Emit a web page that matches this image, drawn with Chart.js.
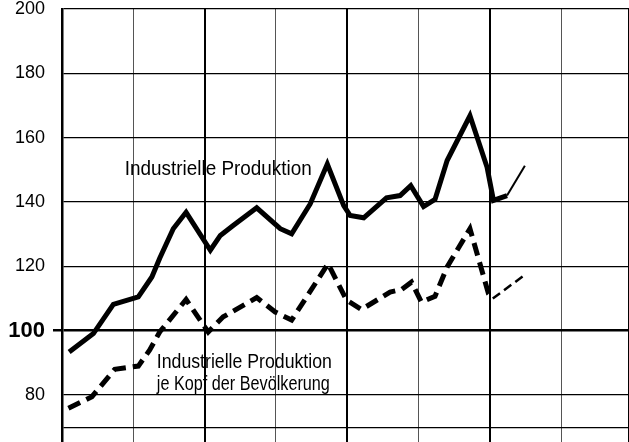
<!DOCTYPE html>
<html>
<head>
<meta charset="utf-8">
<script src="https://cdn.jsdelivr.net/npm/chart.js@4/dist/chart.umd.min.js"></script>
<style>
  html, body { margin: 0; padding: 0; background: #fff; }
  #c { display: block; }
</style>
</head>
<body>
<canvas id="c" width="629" height="442"></canvas>
<script>
// Time axis in years from the left edge of the grid (one grid column = one year)
const prodX = [0.10, 0.44, 0.72, 1.07, 1.26, 1.37, 1.56, 1.74, 2.08, 2.22, 2.40, 2.73, 3.06, 3.22, 3.48, 3.72, 3.95, 4.04, 4.23, 4.55, 4.74, 4.89, 5.07, 5.23, 5.40, 5.72, 5.96, 6.05, 6.24];
const prodY = [93.4, 99.1, 108.2, 110.5, 116.7, 122.5, 131.7, 136.8, 125.0, 129.6, 132.7, 138.2, 131.7, 130.1, 139.4, 151.8, 138.9, 135.8, 135.1, 141.3, 142.0, 145.1, 138.6, 140.8, 152.9, 166.8, 150.8, 140.5, 142.0];
const prodExtX = [6.24, 6.49];
const prodExtY = [142.0, 151.3];

const capX = [0.09, 0.42, 0.74, 1.07, 1.23, 1.37, 1.74, 2.05, 2.26, 2.73, 2.99, 3.22, 3.73, 3.99, 4.20, 4.60, 4.76, 4.90, 5.04, 5.23, 5.40, 5.72, 5.98, 6.04];
const capY = [75.9, 79.5, 88.0, 89.0, 94.0, 99.6, 109.7, 99.6, 104.3, 110.3, 105.8, 103.3, 120.8, 109.5, 106.6, 112.0, 112.8, 115.1, 108.9, 110.7, 119.8, 131.7, 111.5, 110.0];
const capExtX = [6.04, 6.48];
const capExtY = [110.0, 117.2];

const yTickValues = [70, 80, 100, 120, 140, 160, 180, 200];
const labelProd = "Industrielle Produktion";
const labelCap1 = "Industrielle Produktion";
const labelCap2 = "je Kopf der Bevölkerung";

function pts(xs, ys) { return xs.map((x, i) => ({ x: x, y: ys[i] })); }

const annotPlugin = {
  id: 'annot',
  afterDatasetsDraw(chart, args, opts) {
    const ctx = chart.ctx;
    const xs = chart.scales.x, ys = chart.scales.y;
    ctx.save();
    ctx.fillStyle = '#000';
    ctx.textBaseline = 'middle';
    ctx.textAlign = 'left';
    ctx.font = opts.font;
    opts.items.forEach(it => {
      const px = xs.getPixelForValue(it.x);
      const py = ys.getPixelForValue(it.y);
      const w = ctx.measureText(it.text).width;
      const sx = it.width / w;
      ctx.save();
      ctx.translate(px, py);
      ctx.scale(sx, 1);
      ctx.fillText(it.text, 0, 0);
      ctx.restore();
    });
    ctx.restore();
  }
};

new Chart(document.getElementById('c'), {
  type: 'line',
  data: {
    datasets: [
      { data: pts(prodX, prodY), borderColor: '#000', borderWidth: 5, pointRadius: 0, tension: 0, borderJoinStyle: 'miter', borderCapStyle: 'butt' },
      { data: pts(prodExtX, prodExtY), borderColor: '#000', borderWidth: 2, pointRadius: 0, tension: 0 },
      { data: pts(capX, capY), borderColor: '#000', borderWidth: 5, borderDash: [13, 7], pointRadius: 0, tension: 0, borderJoinStyle: 'miter', borderCapStyle: 'butt' },
      { data: pts(capExtX, capExtY), borderColor: '#000', borderWidth: 2.5, borderDash: [9, 5], pointRadius: 0, tension: 0 }
    ]
  },
  options: {
    responsive: false,
    animation: false,
    devicePixelRatio: 1,
    layout: { padding: { top: 9, right: 0, bottom: 0, left: 0 } },
    plugins: {
      legend: { display: false },
      tooltip: { enabled: false },
      title: { display: false },
      annot: {
        font: '20px "Liberation Sans", Arial, sans-serif',
        items: [
          { text: labelProd, x: 0.88, y: 150.1, width: 187 },
          { text: labelCap1, x: 1.33, y: 90.2, width: 175 },
          { text: labelCap2, x: 1.33, y: 83.4, width: 173 }
        ]
      }
    },
    scales: {
      x: {
        type: 'linear',
        min: 0,
        max: 7.95,
        ticks: { display: false, stepSize: 1 },
        border: { display: false },
        grid: {
          drawTicks: false,
          color: ctx => (ctx.tick && Math.round(ctx.tick.value) % 2 === 0) ? '#000' : '#555',
          lineWidth: ctx => (ctx.tick && Math.round(ctx.tick.value) % 2 === 0) ? 2 : 1
        },
        afterFit: s => { s.height = 0; s.paddingLeft = 0; s.paddingRight = 0; s.paddingTop = 0; s.paddingBottom = 0; }
      },
      y: {
        type: 'linear',
        min: 65.4,
        max: 200,
        afterBuildTicks: s => { s.ticks = yTickValues.map(v => ({ value: v })); },
        afterFit: s => { s.width = 62; s.paddingTop = 0; s.paddingBottom = 0; },
        border: { display: true, color: '#000', width: 2.5 },
        grid: {
          color: '#000',
          lineWidth: ctx => (ctx.tick && ctx.tick.value === 100) ? 2.5 : 1.3,
          drawTicks: true,
          tickLength: 9,
          tickColor: ctx => (ctx.tick && ctx.tick.value === 100) ? '#000' : 'rgba(0,0,0,0)'
        },
        ticks: {
          color: '#000',
          padding: 8,
          font: ctx => (ctx.tick && ctx.tick.value === 100)
            ? { family: '"Liberation Sans", Arial, sans-serif', size: 22, weight: 'bold' }
            : { family: '"Liberation Sans", Arial, sans-serif', size: 18 },
          callback: v => (v === 70 ? '' : String(v))
        }
      }
    }
  },
  plugins: [annotPlugin]
});
</script>
</body>
</html>
